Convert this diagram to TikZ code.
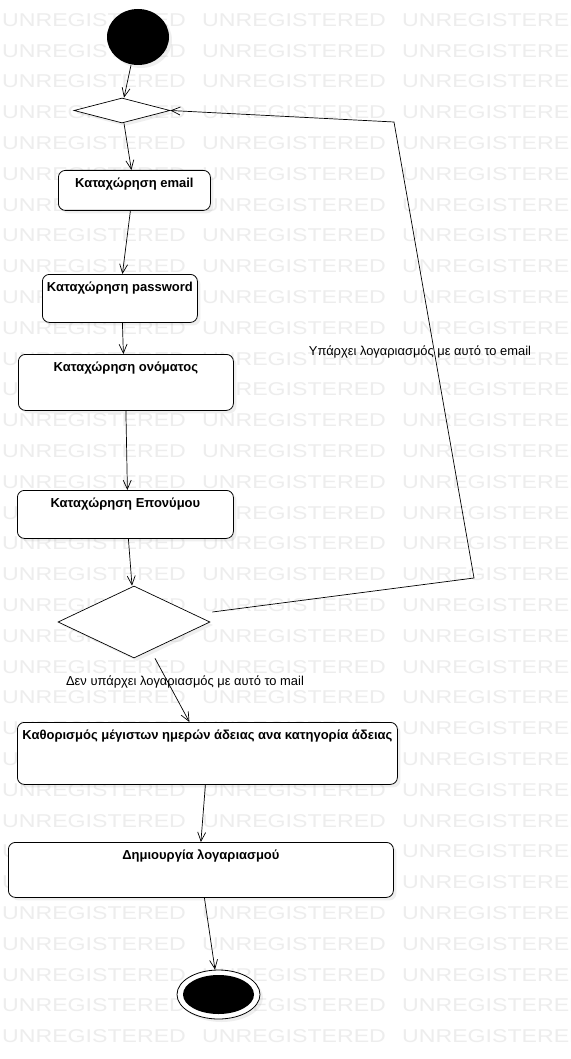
\documentclass[tikz,border=0pt]{standalone}
\usepackage{fontspec}
\setmainfont{Liberation Sans}
\usetikzlibrary{shapes.geometric,arrows.meta,shadows}

\begin{document}
\begin{tikzpicture}[x=1pt,y=-1pt,
    flow/.style={-{Straight Barb[length=9pt,width=8pt]},line width=0.7pt},
    soft/.style={drop shadow={shadow xshift=3pt,shadow yshift=-3pt,opacity=0.12}},
    action/.style={draw,fill=white,soft,rounded corners=7pt,anchor=north west,
        inner xsep=0pt,inner ysep=0pt,text height=17.5pt,text depth=#1,
        font=\fontsize{13}{15}\selectfont\bfseries,line width=0.8pt},
    choice/.style={draw,fill=white,soft,diamond,inner sep=0pt,line width=0.7pt},
    guard/.style={font=\fontsize{12.9}{15}\selectfont},
    wmark/.style={anchor=west,inner sep=0pt,text=black!7,font=\fontsize{18.5}{18.5}\selectfont}]
    % Page:
    % The picture keeps the size of the original, white paper below everything
    \clip (0,0) rectangle (570,1059);
    \fill [white] (0,0) rectangle (570,1059);
    % Watermark:
    % Rows of the same word, spaced evenly over the whole page
    \foreach \k in {0,...,34} {
        \foreach \j in {0,1,2} {
            \node [wmark] (wm-\k-\j) at (2+200*\j,20+30.8*\k) {\scalebox{1.25}[1]{UNREGISTERED}};
        }
    }
    % Start and first decision:
    \node [ellipse,fill=black,soft,minimum width=62pt,minimum height=56pt,inner sep=0pt] (start) at (138,37) {};
    \node [choice,minimum width=96pt,minimum height=25pt] (loop) at (122,110.5) {};
    % Actions:
    % Each box is placed by its top left corner, the text sits near the top
    \node [action=22.5pt,minimum width=152pt] (email) at (58,170) {Καταχώρηση email};
    \node [action=30.5pt,minimum width=155pt] (password) at (42,274) {Καταχώρηση password};
    \node [action=38.5pt,minimum width=215pt] (firstname) at (18,354) {Καταχώρηση ονόματος};
    \node [action=30.5pt,minimum width=216pt] (surname) at (17,490) {Καταχώρηση Επονύμου};
    \node [choice,minimum width=152pt,minimum height=72pt] (check) at (134,622) {};
    \node [action=44.5pt,minimum width=380pt] (limits) at (17,722) {Καθορισμός μέγιστων ημερών άδειας ανα κατηγορία άδειας};
    \node [action=37.5pt,minimum width=385pt] (account) at (8,842) {Δημιουργία λογαριασμού};
    % End:
    % A ring drawn around a smaller black ellipse
    \node [ellipse,draw,fill=white,soft,line width=0.8pt,minimum width=83pt,minimum height=49pt,inner sep=0pt] (stop) at (218.5,994.5) {};
    \node [ellipse,fill=black,minimum width=71pt,minimum height=39pt,inner sep=0pt] (stopdot) at (stop) {};
    % Guards:
    \node [guard] (exists) at (420,352) {Υπάρχει λογαριασμός με αυτό το email};
    \node [guard] (notexists) at (185,682) {Δεν υπάρχει λογαριασμός με αυτό το mail};
    % Flow:
    \draw [flow] ([xshift=-7pt]start.south) -- ([xshift=2pt]loop.north);
    \draw [flow] ([xshift=2pt]loop.south) -- ([xshift=-3pt]email.north);
    \draw [flow] ([xshift=-4pt]email.south) -- ([xshift=2.5pt]password.north);
    \draw [flow] ([xshift=2.5pt]password.south) -- ([xshift=-2.5pt]firstname.north);
    \draw [flow] (firstname.south) -- ([xshift=2pt]surname.north);
    \draw [flow] ([xshift=3pt]surname.south) -- ([xshift=-2pt]check.north);
    \draw [flow] ([xshift=21pt]check.south) -- ([xshift=-18pt]limits.north);
    \draw [flow] ([xshift=-2pt]limits.south) -- (account.north);
    \draw [flow] ([xshift=3.5pt]account.south) -- ([xshift=-3.5pt]stop.north);
    % Back edge: from the second decision up to the first one
    \coordinate (bendlow) at (474,578);
    \coordinate (bendhigh) at (394,122);
    \draw [flow] ([xshift=2pt,yshift=10pt]check.east) -- (bendlow) -- (bendhigh) -- (loop.east);
\end{tikzpicture}
\end{document}
